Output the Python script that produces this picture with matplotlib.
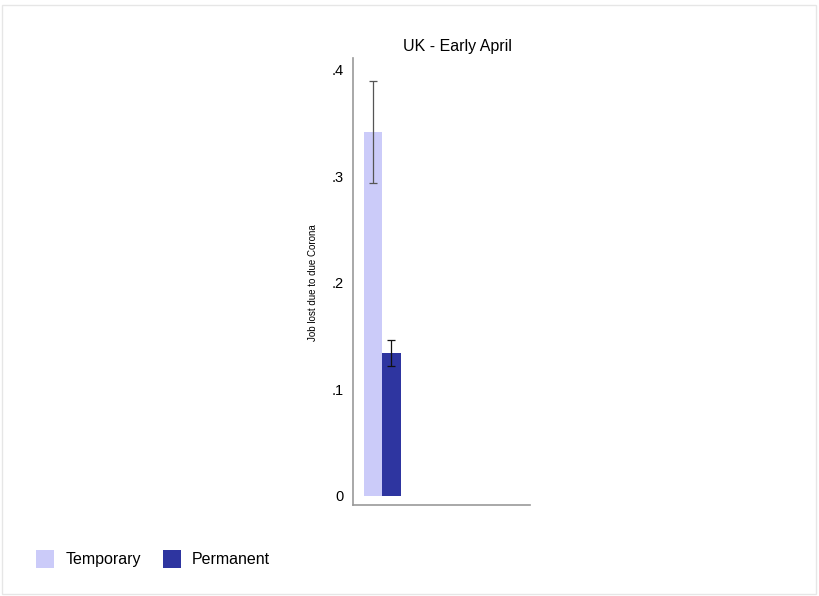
import matplotlib
matplotlib.use("Agg")
import matplotlib.pyplot as plt
from matplotlib.patches import Patch, Rectangle

plt.rcParams["font.family"] = ["Liberation Sans", "DejaVu Sans"]

groups = ["Temporary", "Permanent"]
means = [0.342, 0.134]
ci_low = [0.294, 0.122]
ci_high = [0.389, 0.146]
colors = ["#cbcbf9", "#2e35a0"]
err_colors = ["#555555", "#111111"]
yticks = [0, 0.1, 0.2, 0.3, 0.4]
ytick_labels = ["0", ".1", ".2", ".3", ".4"]

fig = plt.figure(figsize=(8.19, 5.96), dpi=100)
fig.patches.append(Rectangle((0.003, 0.003), 0.993, 0.988, transform=fig.transFigure,
                             fill=False, edgecolor="#e6e6e6", lw=1))
ax = fig.add_axes([0.431, 0.1527, 0.216, 0.750])

for i, g in enumerate(groups):
    ax.bar(i, means[i], width=1.0, color=colors[i])
    ax.errorbar(i, means[i], yerr=[[means[i] - ci_low[i]], [ci_high[i] - means[i]]],
                fmt="none", ecolor=err_colors[i], elinewidth=0.9, capsize=3, capthick=0.9)

ax.set_xlim(-1.08, 8.49)
ax.set_ylim(-0.0085, 0.411)
ax.set_xticks([])
ax.set_yticks(yticks)
ax.set_yticklabels(ytick_labels, fontsize=10.5)
ax.tick_params(axis="y", length=0, pad=7)
for s in ["top", "right"]:
    ax.spines[s].set_visible(False)
for s in ["left", "bottom"]:
    ax.spines[s].set_color("#999999")
    ax.spines[s].set_linewidth(1.2)

fig.text(457 / 819, 1 - 46 / 596, "UK - Early April", ha="center", va="center", fontsize=11.5)
fig.text(313 / 819, 1 - 283 / 596, "Job lost due to due Corona", rotation=90,
         ha="center", va="center", fontsize=7)

handles = [Patch(facecolor=c, edgecolor="none") for c in colors]
fig.legend(handles, groups, loc="center left", bbox_to_anchor=(0.027, 1 - 559 / 596),
           ncol=2, frameon=False, fontsize=11.5, handlelength=1.1, handleheight=1.3,
           columnspacing=1.4, handletextpad=0.7)

fig.savefig("out.png", dpi=100)
